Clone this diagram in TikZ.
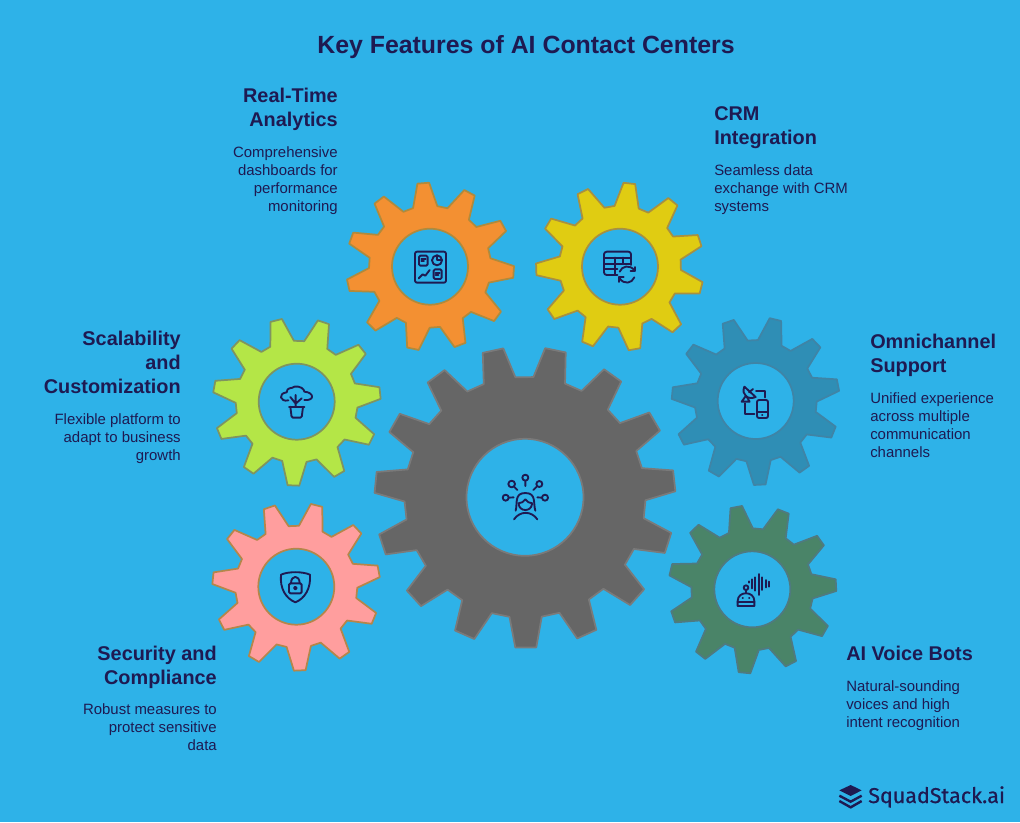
\documentclass[tikz,border=0pt]{standalone}
\usepackage{fontspec}
\setmainfont{Liberation Sans}
\newfontfamily\logofont{Fira Sans}[FakeBold=0.5]
\usepackage{tikz}
\usetikzlibrary{positioning}
\definecolor{skybg}{HTML}{2EB2E8}
\definecolor{ink}{HTML}{1E1A52}
\definecolor{orangefill}{HTML}{F39032}
\definecolor{orangeline}{HTML}{B08A3C}
\definecolor{yellowfill}{HTML}{E0CC12}
\definecolor{yellowline}{HTML}{A89040}
\definecolor{limefill}{HTML}{B4E647}
\definecolor{limeline}{HTML}{7F9460}
\definecolor{bluefill}{HTML}{2F8EB5}
\definecolor{blueline}{HTML}{3F84A6}
\definecolor{greenfill}{HTML}{4A8468}
\definecolor{greenline}{HTML}{4F7A80}
\definecolor{pinkfill}{HTML}{FF9E9E}
\definecolor{pinkline}{HTML}{B5864A}
\definecolor{grayfill}{HTML}{666666}
\definecolor{grayline}{HTML}{7A7A7A}
\newcommand{\gearwheel}[9]{%
  \draw[gear,#1] ({#2+#5*cos(#8-#9)},{#3-#5*sin(#8-#9)})
    \foreach \n [evaluate=\n as \a using #8-\n*360/#7] in {1,...,#7} {
      -- ({#2+#5*cos(\a+#9)},{#3-#5*sin(\a+#9)})
      -- ({#2+#6*cos(\a+4)},{#3-#6*sin(\a+4)})
      -- ({#2+#6*cos(\a-4)},{#3-#6*sin(\a-4)})
      -- ({#2+#5*cos(\a-#9)},{#3-#5*sin(\a-#9)})
    } -- cycle (#2,#3) circle[radius=#4];}
\begin{document}
\begin{tikzpicture}[
          x=0.75pt, y=-0.75pt,
          gear/.style={line width=1.3pt, line join=round, even odd rule},
          icon/.style={draw=ink, line width=1.4pt, line join=round, line cap=round},
          crop/.style 2 args={shift={(#1,#2)}, x=0.25pt, y=-0.25pt},
          title/.style={text=ink, inner sep=0pt, font=\fontsize{18.65}{22}\selectfont\bfseries},
          head/.style={text=ink, inner sep=0pt, font=\fontsize{14.9}{18}\selectfont\bfseries,
              execute at begin node=\strut, execute at end node=\strut},
          headr/.style={head, align=right, anchor=north east},
          headl/.style={head, align=left, anchor=north west},
          desc/.style={text=ink, inner sep=0pt, font=\fontsize{11.2}{13.5}\selectfont,
              execute at begin node=\strut, execute at end node=\strut},
          descr/.style={desc, align=right, anchor=north east},
          descl/.style={desc, align=left, anchor=north west}
        ]
        \fill[skybg] (0,0) rectangle (1020,822);
        \node[title] (maintitle) at (526,47) {Key Features of AI Contact Centers};

        \gearwheel{fill=grayfill, draw=grayline}{525}{497.3}{58.5}{120.5}{150.5}{15}{78.3}{7.7}
        \gearwheel{fill=orangefill, draw=orangeline}{430}{266.7}{38}{61}{84}{11}{94.6}{11.5}
        \gearwheel{fill=yellowfill, draw=yellowline}{620}{266.7}{38}{61}{84}{11}{83.6}{11.5}
        \gearwheel{fill=limefill, draw=limeline}{296.7}{401.7}{38}{61}{84}{11}{71.4}{11.5}
        \gearwheel{fill=bluefill, draw=blueline}{755.7}{401}{38}{61}{84}{11}{76.4}{11.5}
        \gearwheel{fill=greenfill, draw=greenline}{752.3}{589.3}{38}{61}{84}{11}{68.3}{11.5}
        \gearwheel{fill=pinkfill, draw=pinkline}{296.3}{586.7}{38}{61}{84}{11}{76}{11.5}

        \node[headr] (rtahead) at (338,88) {Real-Time\\Analytics};
        \node[below=9.3pt of rtahead.south east, descr] (rtatext)
            {Comprehensive\\dashboards for\\performance\\monitoring};
        \node[headl] (crmhead) at (714,106) {CRM\\Integration};
        \node[below=9.3pt of crmhead.south west, descl] (crmtext)
            {Seamless data\\exchange with CRM\\systems};
        \node[headr] (scalehead) at (181,331) {Scalability\\and\\Customization};
        \node[below=9.3pt of scalehead.south east, descr] (scaletext)
            {Flexible platform to\\adapt to business\\growth};
        \node[headl] (omnihead) at (870,333.7) {Omnichannel\\Support};
        \node[below=9.3pt of omnihead.south west, descl] (omnitext)
            {Unified experience\\across multiple\\communication\\channels};
        \node[headr] (securehead) at (217,646) {Security and\\Compliance};
        \node[below=8.4pt of securehead.south east, descr] (securetext)
            {Robust measures to\\protect sensitive\\data};
        \node[headl] (voicehead) at (846,643.2) {AI Voice Bots};
        \node[below=9.3pt of voicehead.south west, descl] (voicetext)
            {Natural-sounding\\voices and high\\intent recognition};

        \begin{scope}[crop={340}{170}]
          \draw[icon, rounded corners=1.5pt] (225,245) rectangle (318,338);
          \draw[icon, rounded corners=1pt] (237,257) rectangle (263,287);
          \draw[icon] (244,266) -- (257,266) (244,274) -- (252,274);
          \draw[icon] (291,271) circle[radius=15];
          \draw[icon] (291,256) -- (291,271) -- (306,271);
          \draw[icon] (236,325) -- (248,313) -- (256,317) -- (269,300);
          \draw[icon, rounded corners=1pt] (281,298) rectangle (305,327);
          \draw[icon] (287,308) -- (299,308) (287,316) -- (295,316);
        \end{scope}

        \begin{scope}[crop={530}{170}]
          \draw[icon, rounded corners=2pt] (262,315) -- (222,315) -- (222,245) -- (303,245) -- (303,285);
          \draw[icon] (222,263) -- (303,263) (222,281) -- (303,281) (222,298) -- (262,298);
          \draw[icon] (255,263) -- (255,315) (278,263) -- (278,281);
          \draw[icon] (269,305) .. controls (275,288) and (300,282) .. (314,302);
          \draw[icon] (315,291) -- (315,304) -- (302,304);
          \draw[icon] (313,322) .. controls (306,340) and (282,345) .. (269,325);
          \draw[icon] (267,336) -- (267,322) -- (281,322);
        \end{scope}

        \begin{scope}[crop={370}{340}]
          \draw[icon] (407,473) circle[radius=9] (416,473) -- (431,472);
          \draw[icon] (425,432) circle[radius=10] (432,440) -- (442,450);
          \draw[icon] (466,413) circle[radius=9] (466,423) -- (466,438);
          \draw[icon] (508,432) circle[radius=9] (501,439) -- (490,450);
          \draw[icon] (525,473) circle[radius=9] (516,473) -- (502,472);
          \draw[icon] (437,512) .. controls (443,490) and (432,459) .. (466,459) .. controls (500,459) and (489,490) .. (496,512);
          \draw[icon] (445,490) .. controls (455,490) and (460,485) .. (466,478) .. controls (472,485) and (477,490) .. (487,490);
          \draw[icon] (446,492) .. controls (448,516) and (484,516) .. (486,492);
          \draw[icon] (432,538) .. controls (450,512) and (484,512) .. (502,538);
        \end{scope}

        \begin{scope}[crop={665}{315}]
          \draw[icon] (238,215) .. controls (228,240) and (250,256) .. (272,246) -- cycle;
          \draw[icon] (252,232) -- (264,222);
          \draw[icon] (230,260) -- (254,260) -- (243,242) -- cycle;
          \draw[icon] (273,227) -- (300,227) -- (300,247);
          \draw[icon] (240,265) -- (240,296) -- (268,296);
          \draw[icon, rounded corners=1.5pt] (276,255) rectangle (309,309);
          \draw[icon] (276,292) -- (309,292) (291,300) -- (292,300);
        \end{scope}

        \begin{scope}[crop={665}{500}]
          \draw[icon] (218,318) -- (218,303) .. controls (218,272) and (268,272) .. (268,303) -- (268,318) -- cycle;
          \draw[icon] (218,305) -- (268,305) (233,293) -- (234,293) (252,293) -- (253,293);
          \draw[icon] (243,263) circle[radius=7] (243,270) -- (243,278);
          \draw[icon] (251,244) -- (251,248) (260,238) -- (260,265) (270,232) -- (270,272);
          \draw[icon] (281,222) -- (281,285) (292,232) -- (292,270) (302,240) -- (302,262) (312,245) -- (312,260);
        \end{scope}

        \begin{scope}[crop={205}{315}]
          \draw[icon] (250,256) .. controls (225,262) and (218,235) .. (245,232) .. controls (245,215) and (262,222) .. (268,215)
              .. controls (285,212) and (298,222) .. (298,230) .. controls (328,232) and (330,258) .. (298,255);
          \draw[icon] (272,272) -- (272,240) (272,266) -- (256,246) (272,266) -- (290,250);
          \draw[icon] (252,275) -- (298,275);
          \draw[icon, rounded corners=1pt] (256,275) -- (260,308) -- (290,308) -- (294,275);
        \end{scope}

        \begin{scope}[crop={205}{500}]
          \draw[icon] (228,224) .. controls (250,214) and (292,214) .. (315,224) .. controls (318,265) and (300,295) .. (271,307)
              .. controls (242,295) and (224,265) .. (228,224) -- cycle;
          \draw[icon, rounded corners=1pt] (252,250) rectangle (290,280);
          \draw[icon] (258,250) .. controls (258,224) and (284,224) .. (284,250);
          \draw[icon] (271,264) circle[radius=4];
        \end{scope}

        \begin{scope}[crop={830}{775}]
          \fill[ink] (28,46) -- (62,30) -- (95,46) -- (62,63) -- cycle;
          \draw[ink, line width=1.8pt] (28,62) -- (62,80) -- (95,62) (28,78) -- (62,97) -- (95,78);
        \end{scope}
        \node[text=ink, inner sep=0pt, anchor=base west, font=\fontsize{16.1}{18}\logofont] (logotext) at (868,803) {SquadStack.ai};
      \end{tikzpicture}
\end{document}
